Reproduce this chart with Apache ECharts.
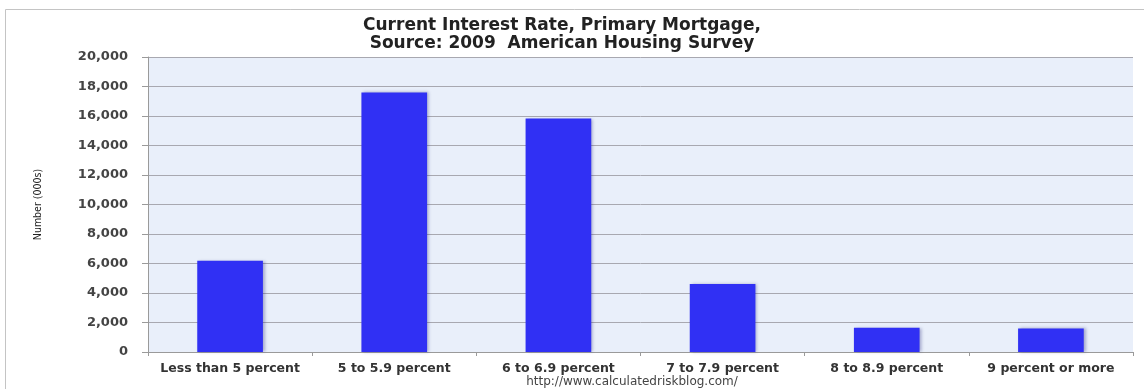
<!DOCTYPE html>
<html>
<head>
<meta charset="utf-8">
<script src="https://cdn.jsdelivr.net/npm/echarts@6/dist/echarts.min.js"></script>
<style>html,body{margin:0;padding:0;background:#fff;overflow:hidden}#c{width:1144px;height:389px}</style>
</head>
<body>
<div id="c"></div>
<script>
const categories = ["Less than 5 percent", "5 to 5.9 percent", "6 to 6.9 percent", "7 to 7.9 percent", "8 to 8.9 percent", "9 percent or more"];
const values = [6180, 17600, 15830, 4610, 1640, 1600];
const titleLines = ["Current Interest Rate, Primary Mortgage,", "Source: 2009  American Housing Survey"];
const yAxisName = "Number (000s)";
const sourceText = "http://www.calculatedriskblog.com/";

const chart = echarts.init(document.getElementById('c'), null, {renderer: 'canvas'});
chart.setOption({
  animation: false,
  backgroundColor: '#ffffff',
  title: {
    text: titleLines.join('\n'),
    left: 557, top: 12, textAlign: 'center',
    textStyle: {fontFamily: 'DejaVu Sans', fontWeight: 'bold', fontSize: 17, color: '#222', lineHeight: 18}
  },
  graphic: [
    {type: 'line', shape: {x1: 5.5, y1: 9.5, x2: 1144, y2: 9.5}, style: {stroke: '#c4c4c4', lineWidth: 1}, z: -1},
    {type: 'line', shape: {x1: 5.5, y1: 9.5, x2: 5.5, y2: 389}, style: {stroke: '#c4c4c4', lineWidth: 1}, z: -1},
    {type: 'text', x: 632, y: 376, style: {text: sourceText, fontFamily: 'DejaVu Sans', fontSize: 12, fill: '#444', textAlign: 'center'}}
  ],
  grid: {left: 148, right: 11, top: 57, bottom: 37, show: true, backgroundColor: '#e9effa', borderWidth: 0},
  xAxis: {
    type: 'category', data: categories,
    axisLine: {lineStyle: {color: '#9a9a9a'}},
    axisTick: {show: true, alignWithLabel: false, length: 4, lineStyle: {color: '#9a9a9a'}},
    axisLabel: {fontFamily: 'DejaVu Sans', fontWeight: 'bold', fontSize: 12.5, color: '#333', margin: 10, interval: 0}
  },
  yAxis: {
    type: 'value', min: 0, max: 20000, interval: 2000,
    name: yAxisName, nameLocation: 'middle', nameGap: 104, nameRotate: 90,
    nameTextStyle: {fontFamily: 'DejaVu Sans Condensed', fontSize: 10.5, color: '#222'},
    axisLine: {show: true, lineStyle: {color: '#9a9a9a'}},
    axisTick: {show: true, length: 6, lineStyle: {color: '#9a9a9a'}},
    axisLabel: {fontFamily: 'DejaVu Sans', fontWeight: 'bold', fontSize: 13, color: '#444', margin: 20,
      formatter: v => v.toLocaleString('en-US')},
    splitLine: {lineStyle: {color: '#a8a8b0', width: 1}}
  },
  series: [{
    type: 'bar', data: values, barWidth: '40%',
    itemStyle: {color: '#3030f4', shadowColor: 'rgba(40,40,120,0.35)', shadowBlur: 3, shadowOffsetX: 2}
  }]
});
</script>
</body>
</html>
